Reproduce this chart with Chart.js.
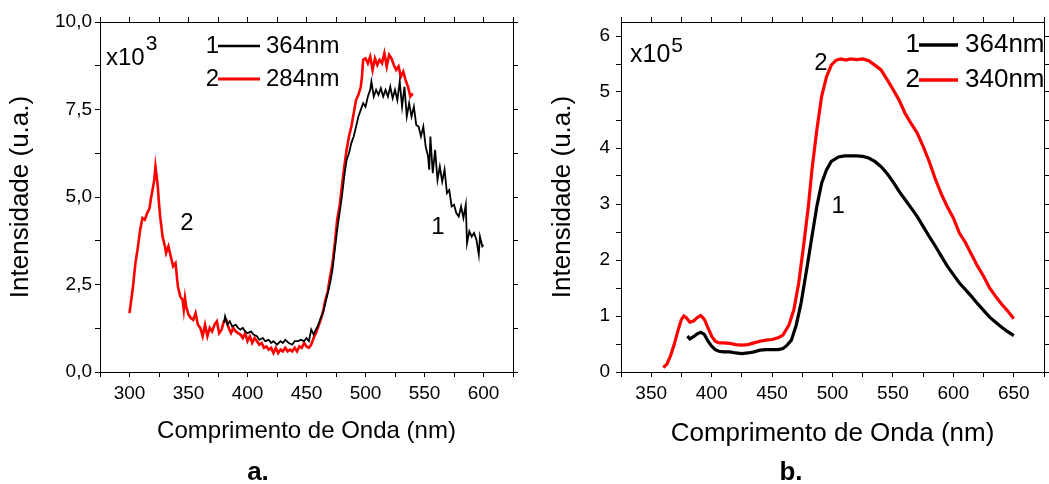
<!DOCTYPE html>
<html>
<head>
<meta charset="utf-8">
<script src="https://cdn.jsdelivr.net/npm/chart.js@4"></script>
<style>
  body { margin: 0; background: #fff; }
  .panel { position: absolute; top: 0; height: 484px; }
  #boxA { left: 0; width: 520px; }
  #boxB { left: 520px; width: 529px; }
</style>
</head>
<body>
<div class="panel" id="boxA"><canvas id="chartA"></canvas></div>
<div class="panel" id="boxB"><canvas id="chartB"></canvas></div>
<script>
// ---- panel a: excitation 364 nm (black) and 284 nm (red), x10^3
const wlA364 = [
  380, 381, 383, 385, 387, 390, 392, 394, 396, 398,
  400, 403, 405, 408, 410, 413, 415, 418, 420, 422,
  425, 428, 430, 432, 435, 438, 440, 443, 445, 448,
  450, 452, 454, 456, 458, 460, 462, 464, 466, 468,
  470, 472, 474, 476, 478, 480, 482, 484, 486, 488,
  490, 492, 494, 496, 498, 500, 502, 504, 505, 507,
  509, 511, 513, 515, 517, 519, 521, 523, 525, 527,
  529, 531, 533, 535, 537, 539, 541, 543, 545, 547,
  549, 551, 553, 554, 555, 557, 559, 561, 563, 565,
  567, 569, 571, 573, 575, 577, 579, 581, 583, 585,
  586, 588, 590, 592, 594, 596, 597, 599, 600
];
const intA364 = [
  1.40, 1.59, 1.35, 1.45, 1.30, 1.35, 1.26, 1.21, 1.26, 1.16,
  1.11, 1.16, 1.07, 1.02, 0.92, 0.97, 0.88, 0.92, 0.83, 0.88,
  0.78, 0.88, 0.83, 0.92, 0.83, 0.78, 0.88, 0.88, 0.92, 0.88,
  0.97, 0.88, 1.21, 1.07, 1.21, 1.35, 1.54, 1.68, 1.97, 2.25,
  2.54, 2.92, 3.49, 4.06, 4.54, 5.01, 5.59, 6.06, 6.25, 6.54,
  6.73, 7.01, 7.30, 7.49, 7.68, 7.58, 7.87, 8.06, 8.30, 7.87,
  8.06, 7.92, 8.11, 7.87, 8.06, 7.87, 8.15, 7.82, 8.06, 7.77,
  8.30, 7.58, 8.15, 7.30, 7.68, 7.30, 7.58, 7.06, 7.01, 6.73,
  7.01, 6.44, 6.16, 5.78, 6.73, 5.68, 6.35, 5.49, 5.87, 5.44,
  5.78, 5.11, 5.20, 4.73, 4.78, 4.54, 4.44, 4.73, 4.40, 4.78,
  3.68, 4.02, 3.87, 3.97, 3.78, 3.35, 3.87, 3.59, 3.63
];
const wlA284 = [
  300, 303, 305, 307, 309, 311, 313, 315, 317, 318,
  319, 320, 321, 322, 323, 324, 325, 326, 327, 328,
  330, 331, 333, 335, 337, 339, 341, 343, 345, 346,
  347, 348, 350, 352, 354, 356, 358, 360, 362, 364,
  366, 368, 370, 372, 374, 376, 378, 380, 382, 384,
  386, 388, 390, 392, 394, 396, 398, 400, 402, 404,
  406, 408, 410, 412, 414, 416, 418, 420, 422, 424,
  426, 428, 430, 432, 434, 436, 438, 440, 442, 444,
  446, 448, 450, 452, 454, 456, 458, 460, 462, 464,
  466, 468, 470, 472, 474, 476, 478, 480, 482, 484,
  486, 488, 490, 492, 494, 496, 497, 498, 500, 502,
  504, 506, 508, 510, 512, 514, 516, 518, 520, 522,
  524, 526, 528, 530, 532, 534, 536, 538, 540
];
const intA284 = [
  1.68, 2.45, 3.11, 3.54, 4.06, 4.40, 4.35, 4.54, 4.68, 4.92,
  5.11, 5.30, 5.49, 5.87, 5.59, 5.30, 4.82, 4.44, 4.16, 3.87,
  3.59, 3.40, 3.59, 3.30, 3.02, 3.11, 2.45, 2.16, 2.06, 1.78,
  2.11, 1.87, 1.64, 1.54, 1.49, 1.68, 1.35, 1.26, 1.02, 1.35,
  1.02, 1.26, 1.16, 1.35, 1.45, 1.11, 1.21, 1.45, 1.49, 1.26,
  1.11, 1.26, 1.16, 1.11, 1.07, 0.97, 1.11, 0.88, 1.02, 0.83,
  0.97, 0.88, 0.78, 0.83, 0.69, 0.73, 0.64, 0.69, 0.54, 0.69,
  0.54, 0.64, 0.59, 0.69, 0.59, 0.64, 0.59, 0.69, 0.59, 0.73,
  0.69, 0.83, 0.73, 0.69, 0.78, 0.97, 1.11, 1.30, 1.49, 1.73,
  2.06, 2.30, 2.73, 3.11, 3.68, 4.35, 4.73, 5.30, 5.87, 6.35,
  6.73, 7.01, 7.39, 7.77, 7.92, 8.15, 8.44, 8.92, 8.96, 8.82,
  9.01, 8.63, 8.96, 8.77, 8.92, 8.82, 9.11, 8.73, 9.06, 8.96,
  8.77, 8.63, 8.73, 8.44, 8.58, 8.34, 8.15, 7.87, 7.96
];

// ---- panel b: excitation 364 nm (black) and 340 nm (red), x10^5
const wlB364 = [
  380, 382, 385, 388, 391, 394, 397, 400, 403, 406,
  410, 415, 420, 425, 430, 435, 440, 445, 450, 455,
  459, 462, 466, 470, 474, 479, 483, 487, 491, 495,
  499, 505, 510, 515, 520, 525, 530, 535, 540, 545,
  550, 555, 560, 565, 570, 575, 580, 585, 590, 595,
  600, 605, 610, 615, 620, 625, 630, 635, 640, 645,
  650
];
const intB364 = [
  0.64, 0.59, 0.63, 0.68, 0.71, 0.67, 0.55, 0.46, 0.40, 0.37,
  0.36, 0.36, 0.34, 0.33, 0.34, 0.36, 0.39, 0.40, 0.40, 0.40,
  0.42, 0.47, 0.57, 0.84, 1.23, 1.88, 2.42, 2.95, 3.37, 3.61,
  3.76, 3.84, 3.86, 3.86, 3.86, 3.85, 3.82, 3.76, 3.67, 3.55,
  3.40, 3.23, 3.08, 2.93, 2.78, 2.60, 2.42, 2.25, 2.07, 1.89,
  1.74, 1.59, 1.47, 1.35, 1.22, 1.10, 0.98, 0.89, 0.80, 0.72,
  0.65
];
const wlB340 = [
  360, 363, 366, 369, 372, 375, 377, 379, 382, 385,
  388, 391, 394, 397, 400, 403, 406, 410, 415, 420,
  425, 430, 435, 440, 445, 450, 455, 459, 464, 468,
  472, 476, 480, 483, 487, 491, 495, 499, 503, 507,
  511, 515, 520, 525, 530, 535, 540, 545, 550, 555,
  560, 565, 570, 575, 580, 585, 590, 595, 600, 605,
  610, 615, 620, 625, 630, 635, 640, 645, 650
];
const intB340 = [
  0.08, 0.14, 0.29, 0.49, 0.73, 0.94, 1.00, 0.97, 0.89, 0.91,
  0.97, 1.01, 0.94, 0.79, 0.64, 0.55, 0.52, 0.52, 0.51, 0.49,
  0.48, 0.49, 0.52, 0.55, 0.57, 0.58, 0.61, 0.66, 0.84, 1.11,
  1.58, 2.24, 2.95, 3.61, 4.32, 4.92, 5.27, 5.48, 5.57, 5.59,
  5.57, 5.59, 5.58, 5.59, 5.56, 5.48, 5.40, 5.23, 5.05, 4.86,
  4.62, 4.44, 4.27, 4.03, 3.76, 3.45, 3.18, 2.95, 2.75, 2.48,
  2.31, 2.10, 1.89, 1.71, 1.50, 1.35, 1.21, 1.09, 0.95
];

// tick positions (labels only on every other one)
const yTicksA = [0, 1.25, 2.5, 3.75, 5, 6.25, 7.5, 8.75, 10];
const yTicksB = [0, 0.5, 1, 1.5, 2, 2.5, 3, 3.5, 4, 4.5, 5, 5.5, 6];

const FAMILY = '"Liberation Sans", Arial, Helvetica, sans-serif';
Chart.defaults.font.family = FAMILY;
Chart.defaults.color = '#000';

const pts = (xs, ys) => xs.map((x, i) => ({ x: x, y: ys[i] }));

// texts drawn on top: x10^n, the numbered legend, curve tags, panel letter
const panelText = {
  id: 'panelText',
  afterDraw(chart, args, o) {
    const ctx = chart.ctx;
    ctx.save();
    ctx.fillStyle = '#000';

    ctx.textAlign = 'left';
    ctx.textBaseline = 'alphabetic';
    ctx.font = o.mult.size + 'px ' + FAMILY;
    ctx.fillText('x10', o.mult.x, o.mult.y);
    const w = ctx.measureText('x10').width;
    ctx.font = o.mult.expSize + 'px ' + FAMILY;
    ctx.fillText(o.mult.exp, o.mult.x + w + 1, o.mult.expY);

    ctx.font = o.legend.size + 'px ' + FAMILY;
    ctx.textBaseline = 'middle';
    chart.data.datasets.forEach((ds, i) => {
      const y = o.legend.rows[i];
      ctx.textAlign = 'right';
      ctx.fillText(String(i + 1), o.legend.x1 + 1, y);
      ctx.strokeStyle = ds.borderColor;
      ctx.lineWidth = ds.borderWidth + 0.5;
      ctx.beginPath();
      ctx.moveTo(o.legend.x1, y);
      ctx.lineTo(o.legend.x2, y);
      ctx.stroke();
      ctx.textAlign = 'left';
      ctx.fillText(ds.label, o.legend.textX, y);
    });

    const xs = chart.scales.x, ys = chart.scales.y;
    ctx.font = o.tagSize + 'px ' + FAMILY;
    ctx.textAlign = 'center';
    o.tags.forEach(t => ctx.fillText(t.text, xs.getPixelForValue(t.nm), ys.getPixelForValue(t.val)));

    ctx.font = 'bold ' + o.panel.size + 'px ' + FAMILY;
    ctx.textBaseline = 'alphabetic';
    ctx.fillText(o.panel.text, o.panel.x, o.panel.y);
    ctx.restore();
  }
};

function makeScales(cfg) {
  const tickGrid = { drawOnChartArea: false, color: '#000', tickLength: 5, tickWidth: 1 };
  const border = { color: '#000', width: 1 };
  const setYTicks = s => { s.ticks = cfg.yTicks.map(v => ({ value: v })); };
  return {
    x: {
      type: 'linear', min: cfg.xMin, max: cfg.xMax,
      afterFit: s => { s.height = cfg.xHeight; },
      border: border, grid: tickGrid,
      ticks: {
        stepSize: 25, autoSkip: false, maxRotation: 0, padding: 5,
        font: { size: 19 },
        callback: v => (v % 50 === 0 ? String(v) : '')
      },
      title: {
        display: true, text: 'Comprimento de Onda (nm)',
        font: { size: cfg.xTitleSize }, padding: { top: 0, bottom: cfg.xTitlePad }
      }
    },
    y: {
      type: 'linear', min: 0, max: cfg.yMax,
      afterBuildTicks: setYTicks,
      afterFit: s => { s.width = cfg.yWidth; },
      border: border, grid: tickGrid,
      ticks: {
        autoSkip: false, padding: cfg.yTickPad,
        font: { size: 19 },
        callback: cfg.yLabel
      },
      title: {
        display: true, text: 'Intensidade (u.a.)',
        font: { size: 26 }, padding: { top: cfg.yTitlePad, bottom: 0 }
      }
    },
    x2: {
      type: 'linear', position: 'top', min: cfg.xMin, max: cfg.xMax,
      afterFit: s => { s.height = 0; },
      border: border, grid: tickGrid,
      ticks: { stepSize: 25, display: false }
    },
    y2: {
      type: 'linear', position: 'right', min: 0, max: cfg.yMax,
      afterBuildTicks: setYTicks,
      afterFit: s => { s.width = 0; },
      border: border, grid: tickGrid,
      ticks: { display: false }
    }
  };
}

function lineSet(label, xs, ys, color, width) {
  return {
    label: label, data: pts(xs, ys),
    borderColor: color, borderWidth: width,
    pointRadius: 0, fill: false, tension: 0
  };
}

// Panel a
new Chart(document.getElementById('chartA'), {
  type: 'line',
  data: {
    datasets: [
      lineSet('364nm', wlA364, intA364, '#000000', 1.8),
      lineSet('284nm', wlA284, intA284, '#ff0000', 2.6)
    ]
  },
  options: {
    responsive: true, maintainAspectRatio: false, animation: false, events: [],
    layout: { padding: { top: 22, right: 7, bottom: 0, left: 0 } },
    scales: makeScales({
      xMin: 275, xMax: 625, xHeight: 112, xTitleSize: 24, xTitlePad: 38,
      yMax: 10, yTicks: yTicksA, yWidth: 100, yTickPad: 3, yTitlePad: 5,
      yLabel: v => (Math.abs(v / 2.5 - Math.round(v / 2.5)) < 1e-6 ? v.toFixed(1).replace('.', ',') : '')
    }),
    plugins: {
      legend: { display: false },
      tooltip: { enabled: false },
      panelText: {
        mult: { x: 106, y: 65, size: 24, exp: '3', expSize: 21, expY: 50 },
        legend: { size: 24, x1: 218, x2: 260, textX: 266, rows: [46, 79] },
        tagSize: 24,
        tags: [{ text: '2', nm: 348.7, val: 4.26 }, { text: '1', nm: 561.4, val: 4.14 }],
        panel: { text: 'a.', size: 26, x: 258, y: 480 }
      }
    }
  },
  plugins: [panelText]
});

// Panel b
new Chart(document.getElementById('chartB'), {
  type: 'line',
  data: {
    datasets: [
      lineSet('364nm', wlB364, intB364, '#000000', 3.2),
      lineSet('340nm', wlB340, intB340, '#ff0000', 3.2)
    ]
  },
  options: {
    responsive: true, maintainAspectRatio: false, animation: false, events: [],
    layout: { padding: { top: 22, right: 1, bottom: 0, left: 0 } },
    scales: makeScales({
      xMin: 325, xMax: 675, xHeight: 112, xTitleSize: 26, xTitlePad: 35,
      yMax: 6.25, yTicks: yTicksB, yWidth: 101, yTickPad: 6, yTitlePad: 27,
      yLabel: v => (Number.isInteger(v) ? String(v) : '')
    }),
    plugins: {
      legend: { display: false },
      tooltip: { enabled: false },
      panelText: {
        mult: { x: 110, y: 62, size: 25, exp: '5', expSize: 21, expY: 52 },
        legend: { size: 26, x1: 399, x2: 438, textX: 445, rows: [45, 80] },
        tagSize: 24,
        tags: [{ text: '2', nm: 490.5, val: 5.51 }, { text: '1', nm: 504.6, val: 2.95 }],
        panel: { text: 'b.', size: 26, x: 271, y: 480 }
      }
    }
  },
  plugins: [panelText]
});
</script>
</body>
</html>
